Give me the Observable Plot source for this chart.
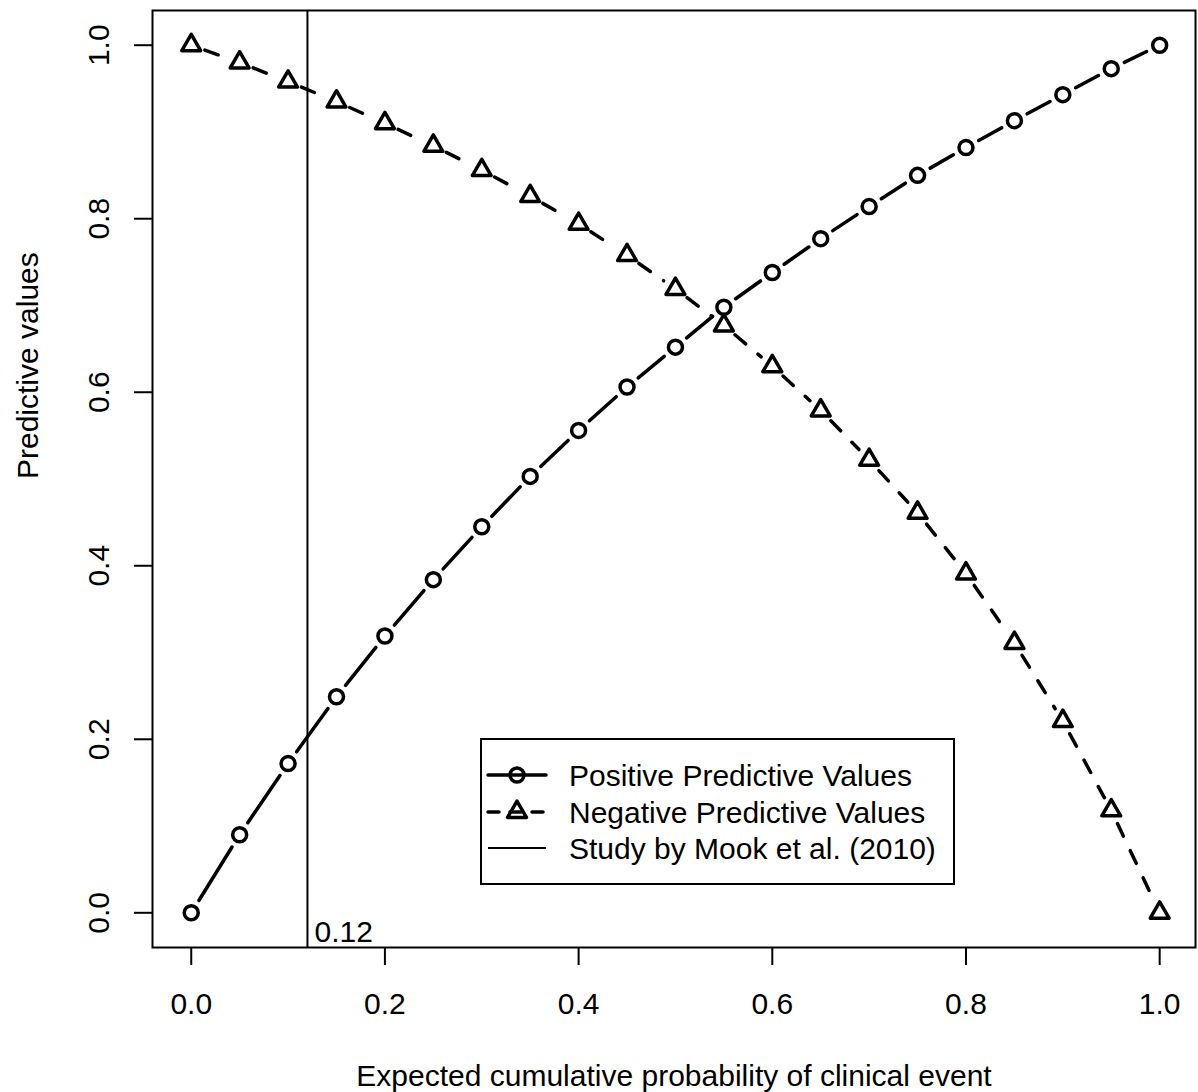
<!DOCTYPE html>
<html>
<head>
<meta charset="utf-8">
<script src="https://cdn.jsdelivr.net/npm/d3@7"></script>
<script src="https://cdn.jsdelivr.net/npm/@observablehq/plot@0.6"></script>
<style>
  html, body { margin: 0; padding: 0; background: #ffffff; }
  #wrap { position: relative; width: 1198px; height: 1092px; background: #ffffff; }
  #wrap svg { display: block; }
  #legend { position: absolute; left: 0; top: 0; pointer-events: none; }
</style>
</head>
<body>
<div id="wrap"></div>
<script>
// ---- data ----
const prob = [0, 0.05, 0.10, 0.15, 0.20, 0.25, 0.30, 0.35, 0.40, 0.45, 0.50,
              0.55, 0.60, 0.65, 0.70, 0.75, 0.80, 0.85, 0.90, 0.95, 1.00];
const ppv  = [0.000, 0.090, 0.172, 0.249, 0.319, 0.384, 0.445, 0.503, 0.556, 0.606, 0.652,
              0.698, 0.738, 0.777, 0.814, 0.850, 0.882, 0.913, 0.943, 0.973, 1.000];
const npv  = [1.000, 0.980, 0.958, 0.935, 0.910, 0.884, 0.856, 0.826, 0.794, 0.758, 0.719,
              0.677, 0.630, 0.579, 0.522, 0.461, 0.391, 0.311, 0.221, 0.118, 0.000];
const xTicks = [0, 0.2, 0.4, 0.6, 0.8, 1.0];
const yTicks = [0, 0.2, 0.4, 0.6, 0.8, 1.0];
const mookProb = 0.12;
const mookLabel = "0.12";
const legendLabels = ["Positive Predictive Values", "Negative Predictive Values", "Study by Mook et al. (2010)"];
const xTitle = "Expected cumulative probability of clinical event";
const yTitle = "Predictive values";

// ---- layout ----
const W = 1198, H = 1092;
const mL = 152, mR = 3, mT = 10, mB = 145;
const xDom = [-0.04, 1.037];
const yDom = [-0.04, 1.04];
const FONT = "'Liberation Sans', Arial, Helvetica, sans-serif";
const fmt = d3.format(".1f");
const SW = 3.5;

// pixels per data unit (to leave R "type = b" gaps around the symbols)
const kx = (W - mL - mR) / (xDom[1] - xDom[0]);
const ky = (H - mT - mB) / (yDom[1] - yDom[0]);
function gapped(xs, ys, gap) {
  const out = [];
  for (let i = 0; i < xs.length - 1; i++) {
    const ddx = xs[i + 1] - xs[i], ddy = ys[i + 1] - ys[i];
    const L = Math.hypot(ddx * kx, ddy * ky);
    if (L > 2 * gap) {
      const t = gap / L;
      out.push({x1: xs[i] + t * ddx, y1: ys[i] + t * ddy,
                x2: xs[i + 1] - t * ddx, y2: ys[i + 1] - t * ddy});
    }
  }
  return out;
}
const ppvPts = prob.map((p, i) => ({p, v: ppv[i]}));
const npvPts = prob.map((p, i) => ({p, v: npv[i]}));
const ppvSegs = gapped(prob, ppv, 14.5);
const npvSegs = gapped(prob, npv, 14.5);

const chart = Plot.plot({
  width: W, height: H,
  marginLeft: mL, marginRight: mR, marginTop: mT, marginBottom: mB,
  style: {fontFamily: FONT, fontSize: "30px", color: "black", background: "white", overflow: "visible"},
  x: {domain: xDom, label: null},
  y: {domain: yDom, label: null},
  marks: [
    Plot.frame({stroke: "black", strokeWidth: 2}),
    Plot.axisX(xTicks, {tickSize: 18, tickPadding: 27, tickFormat: fmt, strokeWidth: 2, stroke: "black", label: null, fontSize: 30}),
    Plot.axisY(yTicks, {tickSize: 18, tickPadding: 26, tickRotate: -90, tickFormat: fmt, strokeWidth: 2, stroke: "black", label: null, fontSize: 30}),
    Plot.ruleX([mookProb], {stroke: "black", strokeWidth: 2}),
    Plot.text([{p: mookProb, label: mookLabel}], {x: "p", text: "label", frameAnchor: "bottom",
      textAnchor: "start", lineAnchor: "bottom", dx: 7, dy: -6, fontSize: 30, fill: "black"}),
    Plot.link(ppvSegs, {x1: "x1", y1: "y1", x2: "x2", y2: "y2", stroke: "black", strokeWidth: SW, strokeLinecap: "round"}),
    Plot.link(npvSegs, {x1: "x1", y1: "y1", x2: "x2", y2: "y2", stroke: "black", strokeWidth: SW,
      strokeLinecap: "round", strokeDasharray: "14,16"}),
    Plot.dot(ppvPts, {x: "p", y: "v", symbol: "circle", r: 7, stroke: "black", strokeWidth: SW, fill: "none"}),
    Plot.dot(npvPts, {x: "p", y: "v", symbol: "triangle", r: 7, stroke: "black", strokeWidth: SW, fill: "none", strokeLinejoin: "round"}),
    Plot.text([xTitle], {text: d => d, frameAnchor: "bottom", dy: 138, lineAnchor: "bottom", fontSize: 30, fill: "black"}),
    Plot.text([yTitle], {text: d => d, frameAnchor: "left", rotate: -90, dx: -115, lineAnchor: "bottom", fontSize: 30, fill: "black"})
  ]
});
const wrap = document.getElementById("wrap");
wrap.appendChild(chart);

// ---- legend (inside the plot area, lower middle) ----
const lg = d3.select(wrap).append("svg").attr("id", "legend")
  .attr("width", W).attr("height", H);
lg.append("rect").attr("x", 481).attr("y", 739).attr("width", 473).attr("height", 145)
  .attr("fill", "white").attr("stroke", "black").attr("stroke-width", 2);
const rowsY = [775, 812, 848];
const sx0 = 488, sx1 = 546, sc = 517;
// row 1: solid line + circle
lg.append("line").attr("x1", sx0).attr("x2", sx1).attr("y1", rowsY[0]).attr("y2", rowsY[0])
  .attr("stroke", "black").attr("stroke-width", SW).attr("stroke-linecap", "round");
lg.append("circle").attr("cx", sc).attr("cy", rowsY[0]).attr("r", 7)
  .attr("fill", "none").attr("stroke", "black").attr("stroke-width", SW);
// row 2: dashed line + triangle
lg.append("line").attr("x1", sx0).attr("x2", sx1).attr("y1", rowsY[1]).attr("y2", rowsY[1])
  .attr("stroke", "black").attr("stroke-width", SW).attr("stroke-linecap", "round")
  .attr("stroke-dasharray", "11,11");
lg.append("path").attr("d", d3.symbol(d3.symbolTriangle, Math.PI * 49)())
  .attr("transform", `translate(${sc},${rowsY[1]})`)
  .attr("fill", "none").attr("stroke", "black").attr("stroke-width", SW).attr("stroke-linejoin", "round");
// row 3: thin solid line
lg.append("line").attr("x1", sx0).attr("x2", sx1).attr("y1", rowsY[2]).attr("y2", rowsY[2])
  .attr("stroke", "black").attr("stroke-width", 2);
lg.selectAll("text.lab").data(legendLabels).join("text")
  .attr("class", "lab")
  .attr("x", 569).attr("y", (d, i) => rowsY[i] + 10.5)
  .attr("font-family", FONT).attr("font-size", 30).attr("fill", "black")
  .text(d => d);
</script>
</body>
</html>
